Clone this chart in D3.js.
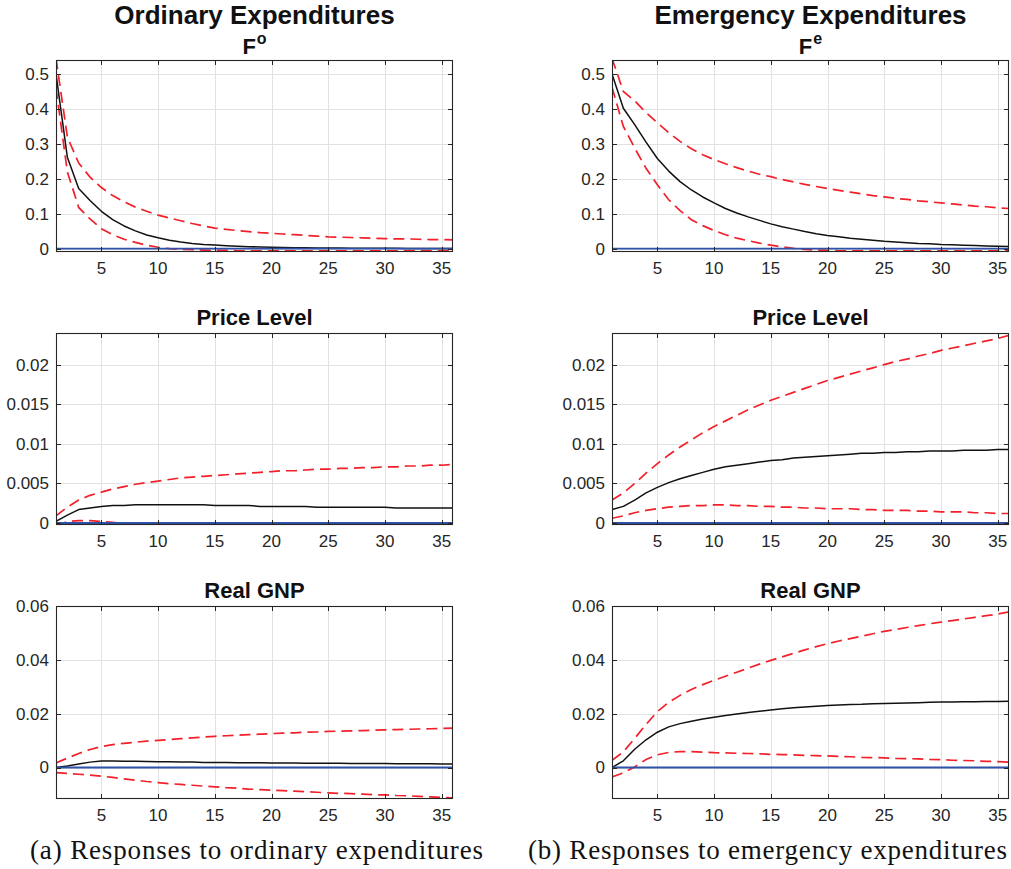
<!DOCTYPE html>
<html>
<head>
<meta charset="utf-8">
<script src="https://cdn.jsdelivr.net/npm/d3@7"></script>
<style>
  html, body { margin: 0; padding: 0; background: #fff; }
  svg { display: block; }
</style>
</head>
<body>
<svg id="chart" width="1011" height="869"></svg>
<script>
// ---------------- DATA ----------------
const horizon = [1,2,3,4,5,6,7,8,9,10,11,12,13,14,15,16,17,18,19,20,21,22,23,24,25,26,27,28,29,30,31,32,33,34,35,36];
const xTicks = [5,10,15,20,25,30,35];

// Row 1: fiscal variable own response
const foMed = [0.500,0.262,0.172,0.138,0.107,0.083,0.065,0.051,0.039,0.031,0.024,0.019,0.015,0.012,0.0105,0.0085,0.007,0.0058,0.0048,0.004,0.0034,0.0029,0.0025,0.0021,0.0018,0.0016,0.0014,0.0012,0.0011,0.001,0.0009,0.0008,0.0007,0.0006,0.0006,0.0005];
const foUp  = [0.545,0.32,0.245,0.205,0.175,0.152,0.134,0.119,0.107,0.096,0.088,0.080,0.072,0.065,0.059,0.055,0.052,0.049,0.046,0.044,0.042,0.040,0.038,0.036,0.034,0.033,0.032,0.031,0.030,0.029,0.028,0.028,0.027,0.026,0.026,0.025];
const foLo  = [0.46,0.22,0.118,0.085,0.057,0.040,0.027,0.018,0.010,0.004,0.000,-0.002,-0.003,-0.004,-0.005,-0.005,-0.006,-0.006,-0.006,-0.006,-0.006,-0.006,-0.006,-0.006,-0.006,-0.006,-0.006,-0.006,-0.006,-0.006,-0.006,-0.006,-0.006,-0.006,-0.006,-0.006];

const feMed = [0.500,0.402,0.355,0.305,0.258,0.222,0.192,0.168,0.148,0.131,0.115,0.102,0.091,0.081,0.071,0.063,0.056,0.049,0.043,0.038,0.034,0.030,0.027,0.024,0.021,0.019,0.017,0.015,0.014,0.012,0.011,0.010,0.009,0.008,0.007,0.006];
const feUp  = [0.545,0.45,0.423,0.39,0.36,0.332,0.307,0.286,0.269,0.255,0.243,0.232,0.222,0.213,0.206,0.198,0.191,0.184,0.178,0.172,0.167,0.162,0.157,0.152,0.148,0.144,0.141,0.137,0.134,0.131,0.128,0.125,0.122,0.120,0.117,0.115];
const feLo  = [0.462,0.35,0.288,0.23,0.183,0.14,0.109,0.083,0.066,0.052,0.040,0.030,0.023,0.016,0.010,0.005,0.001,-0.002,-0.004,-0.005,-0.006,-0.006,-0.006,-0.006,-0.006,-0.006,-0.006,-0.006,-0.006,-0.006,-0.006,-0.006,-0.006,-0.006,-0.006,-0.006];

// Row 2: price level
const ploMed = [0.0002,0.0010,0.0017,0.0019,0.0021,0.0022,0.0022,0.0023,0.0023,0.0023,0.0023,0.0023,0.0023,0.0023,0.0022,0.0022,0.0022,0.0022,0.0021,0.0021,0.0021,0.0021,0.0021,0.0020,0.0020,0.0020,0.0020,0.0020,0.0020,0.0020,0.0019,0.0019,0.0019,0.0019,0.0019,0.0019];
const ploUp  = [0.0009,0.0020,0.0029,0.0035,0.0039,0.0043,0.0046,0.0049,0.0051,0.0053,0.0055,0.0057,0.0058,0.0059,0.0060,0.0061,0.0062,0.0063,0.0064,0.0065,0.0066,0.0066,0.0067,0.0068,0.0068,0.0069,0.0069,0.0070,0.0070,0.0071,0.0071,0.0072,0.0072,0.0073,0.0073,0.0074];
const ploLo  = [-0.0004,0.0002,0.0003,0.0003,0.0002,0.0001,-0.0001,-0.0003,-0.0005,-0.0007,-0.0009,-0.0011,-0.0012,-0.0014,-0.0015,-0.0016,-0.0017,-0.0018,-0.0019,-0.0020,-0.0021,-0.0022,-0.0023,-0.0023,-0.0024,-0.0025,-0.0025,-0.0026,-0.0026,-0.0027,-0.0027,-0.0028,-0.0028,-0.0029,-0.0029,-0.0030];

const pleMed = [0.0017,0.0021,0.0029,0.0038,0.0045,0.0051,0.0056,0.0060,0.0064,0.0068,0.0071,0.0073,0.0075,0.0077,0.0079,0.0080,0.0082,0.0083,0.0084,0.0085,0.0086,0.0087,0.0088,0.0088,0.0089,0.0089,0.0090,0.0090,0.0091,0.0091,0.0091,0.0092,0.0092,0.0092,0.0093,0.0093];
const pleUp  = [0.0029,0.0038,0.0050,0.0063,0.0075,0.0086,0.0096,0.0105,0.0114,0.0122,0.0129,0.0136,0.0143,0.0149,0.0155,0.0160,0.0165,0.0170,0.0175,0.0180,0.0184,0.0188,0.0192,0.0196,0.0200,0.0204,0.0207,0.0211,0.0214,0.0218,0.0221,0.0224,0.0227,0.0230,0.0233,0.0237];
const pleLo  = [0.0006,0.0009,0.0013,0.0016,0.0018,0.0020,0.0021,0.0022,0.0022,0.0023,0.0023,0.0022,0.0022,0.0021,0.0021,0.0020,0.0020,0.0019,0.0019,0.0018,0.0018,0.0018,0.0017,0.0017,0.0016,0.0016,0.0016,0.0015,0.0015,0.0014,0.0014,0.0014,0.0013,0.0013,0.0012,0.0012];

// Row 3: real GNP
const gnoMed = [0.0000,0.0006,0.0013,0.0020,0.0024,0.0024,0.0023,0.0023,0.0022,0.0021,0.0021,0.0020,0.0020,0.0019,0.0019,0.0019,0.0018,0.0018,0.0018,0.0017,0.0017,0.0017,0.0016,0.0016,0.0016,0.0016,0.0015,0.0015,0.0015,0.0015,0.0014,0.0014,0.0014,0.0014,0.0013,0.0013];
const gnoUp  = [0.0017,0.0035,0.0052,0.0067,0.0078,0.0085,0.0090,0.0094,0.0098,0.0101,0.0104,0.0107,0.0110,0.0113,0.0116,0.0118,0.0120,0.0122,0.0124,0.0126,0.0128,0.0129,0.0131,0.0132,0.0134,0.0135,0.0136,0.0137,0.0139,0.0140,0.0141,0.0142,0.0143,0.0144,0.0145,0.0146];
const gnoLo  = [-0.0019,-0.0022,-0.0025,-0.0028,-0.0032,-0.0037,-0.0042,-0.0047,-0.0052,-0.0056,-0.0060,-0.0063,-0.0066,-0.0069,-0.0072,-0.0075,-0.0077,-0.0080,-0.0082,-0.0084,-0.0086,-0.0088,-0.0090,-0.0092,-0.0094,-0.0096,-0.0097,-0.0099,-0.0101,-0.0102,-0.0104,-0.0105,-0.0107,-0.0109,-0.0111,-0.0113];

const gneMed = [0.0000,0.0025,0.0068,0.0103,0.0131,0.0151,0.0163,0.0172,0.0180,0.0187,0.0193,0.0199,0.0204,0.0209,0.0214,0.0218,0.0222,0.0225,0.0228,0.0230,0.0232,0.0234,0.0235,0.0237,0.0238,0.0239,0.0240,0.0241,0.0242,0.0243,0.0243,0.0244,0.0244,0.0245,0.0245,0.0246];
const gneUp  = [0.0027,0.0058,0.0108,0.0160,0.0208,0.0242,0.0268,0.0290,0.0308,0.0324,0.0339,0.0354,0.0369,0.0384,0.0398,0.0411,0.0424,0.0437,0.0449,0.0460,0.0470,0.0479,0.0488,0.0497,0.0506,0.0513,0.0520,0.0527,0.0534,0.0540,0.0546,0.0552,0.0558,0.0564,0.0570,0.0578];
const gneLo  = [-0.0035,-0.0020,0.0002,0.0030,0.0047,0.0056,0.0059,0.0059,0.0057,0.0055,0.0054,0.0053,0.0052,0.0051,0.0049,0.0048,0.0047,0.0045,0.0044,0.0043,0.0041,0.0040,0.0038,0.0037,0.0036,0.0034,0.0033,0.0032,0.0030,0.0029,0.0027,0.0026,0.0025,0.0023,0.0022,0.0020];

// Axis settings per row
const rowDomains = [[-0.0095, 0.54], [-0.00025, 0.024], [-0.0117, 0.06]];
const rowTicks = [[0,0.1,0.2,0.3,0.4,0.5],[0,0.005,0.01,0.015,0.02],[0,0.02,0.04,0.06]];
const rowTickLabels = [["0","0.1","0.2","0.3","0.4","0.5"],["0","0.005","0.01","0.015","0.02"],["0","0.02","0.04","0.06"]];
const columnTitles = ["Ordinary Expenditures", "Emergency Expenditures"];
const fiscalSuper = ["o", "e"];
const rowTitles = [null, "Price Level", "Real GNP"];
const captions = ["(a) Responses to ordinary expenditures", "(b) Responses to emergency expenditures"];

const series = [
  [ {med: foMed, up: foUp, lo: foLo}, {med: feMed, up: feUp, lo: feLo} ],
  [ {med: ploMed, up: ploUp, lo: ploLo}, {med: pleMed, up: pleUp, lo: pleLo} ],
  [ {med: gnoMed, up: gnoUp, lo: gnoLo}, {med: gneMed, up: gneUp, lo: gneLo} ]
];

// ---------------- LAYOUT ----------------
const cols = [{x0: 56, x1: 453}, {x0: 612, x1: 1009}];
const rows = [{y0: 60, y1: 252}, {y0: 333, y1: 525}, {y0: 606, y1: 799}];
const sans = "'Liberation Sans', Arial, Helvetica, sans-serif";
const serif = "'Liberation Serif', 'Times New Roman', serif";
const axisColor = "#262626";
const gridColor = "#e2e2e2";
const redColor = "#f2202a";
const blueColor = "#2f51a8";
const tickLen = 5;

const svg = d3.select("#chart");
const defs = svg.append("defs");

rows.forEach((r, ri) => {
  cols.forEach((c, ci) => {
    const x = d3.scaleLinear().domain([1, 36]).range([c.x0, c.x1]);
    const y = d3.scaleLinear().domain(rowDomains[ri]).range([r.y1, r.y0]);
    const g = svg.append("g");
    const clipId = `clip-${ri}-${ci}`;
    defs.append("clipPath").attr("id", clipId)
      .append("rect").attr("x", c.x0).attr("y", r.y0)
      .attr("width", c.x1 - c.x0).attr("height", r.y1 - r.y0);

    // grid
    g.selectAll(".gx").data(xTicks).enter().append("line")
      .attr("x1", d => Math.round(x(d)) + 0.5).attr("x2", d => Math.round(x(d)) + 0.5)
      .attr("y1", r.y0).attr("y2", r.y1)
      .attr("stroke", gridColor).attr("stroke-width", 1);
    g.selectAll(".gy").data(rowTicks[ri]).enter().append("line")
      .attr("y1", d => Math.round(y(d)) + 0.5).attr("y2", d => Math.round(y(d)) + 0.5)
      .attr("x1", c.x0).attr("x2", c.x1)
      .attr("stroke", gridColor).attr("stroke-width", 1);

    // data lines
    const line = d3.line().x((d, i) => x(horizon[i])).y(d => y(d));
    const s = series[ri][ci];
    const lg = g.append("g").attr("clip-path", `url(#${clipId})`);
    lg.append("path").datum(s.med).attr("d", line)
      .attr("fill", "none").attr("stroke", "#111").attr("stroke-width", 1.5)
      .attr("stroke-linejoin", "round");
    [s.up, s.lo].forEach(arr => {
      lg.append("path").datum(arr).attr("d", line)
        .attr("fill", "none").attr("stroke", redColor).attr("stroke-width", 1.7)
        .attr("stroke-dasharray", "11,6");
    });
    const zeroLine = horizon.map(() => 0);
    lg.append("path").datum(zeroLine).attr("d", line)
      .attr("fill", "none").attr("stroke", blueColor).attr("stroke-width", 1.8);

    // ticks (inward, all four sides)
    xTicks.forEach(t => {
      const xx = Math.round(x(t)) + 0.5;
      g.append("line").attr("x1", xx).attr("x2", xx).attr("y1", r.y1).attr("y2", r.y1 - tickLen)
        .attr("stroke", axisColor).attr("stroke-width", 1);
      g.append("line").attr("x1", xx).attr("x2", xx).attr("y1", r.y0).attr("y2", r.y0 + tickLen)
        .attr("stroke", axisColor).attr("stroke-width", 1);
    });
    rowTicks[ri].forEach(t => {
      const yy = Math.round(y(t)) + 0.5;
      g.append("line").attr("x1", c.x0).attr("x2", c.x0 + tickLen).attr("y1", yy).attr("y2", yy)
        .attr("stroke", axisColor).attr("stroke-width", 1);
      g.append("line").attr("x1", c.x1).attr("x2", c.x1 - tickLen).attr("y1", yy).attr("y2", yy)
        .attr("stroke", axisColor).attr("stroke-width", 1);
    });

    // box
    g.append("rect").attr("x", c.x0 + 0.5).attr("y", r.y0 + 0.5)
      .attr("width", c.x1 - c.x0 - 1).attr("height", r.y1 - r.y0 - 1)
      .attr("fill", "none").attr("stroke", axisColor).attr("stroke-width", 1.1);

    // tick labels
    g.selectAll(".xl").data(xTicks).enter().append("text")
      .attr("x", d => x(d)).attr("y", r.y1 + 21.5)
      .attr("text-anchor", "middle")
      .style("font-family", sans).style("font-size", "17px").attr("fill", axisColor)
      .text(d => d);
    g.selectAll(".yl").data(rowTicks[ri]).enter().append("text")
      .attr("x", c.x0 - 7).attr("y", d => y(d)).attr("dy", "0.35em")
      .attr("text-anchor", "end")
      .style("font-family", sans).style("font-size", "17px").attr("fill", axisColor)
      .text((d, i) => rowTickLabels[ri][i]);

    // titles
    const cx = (c.x0 + c.x1) / 2;
    if (ri === 0) {
      g.append("text").attr("x", cx).attr("y", 24).attr("text-anchor", "middle")
        .style("font-family", sans).style("font-size", "26px").style("font-weight", "bold")
        .attr("fill", "#111").text(columnTitles[ci]);
      const ft = g.append("text").attr("x", cx).attr("y", 54).attr("text-anchor", "middle")
        .style("font-family", sans).style("font-weight", "bold").attr("fill", "#111");
      ft.append("tspan").style("font-size", "22px").text("F");
      ft.append("tspan").style("font-size", "16px").attr("dx", 1).attr("dy", -10).text(fiscalSuper[ci]);
    } else {
      g.append("text").attr("x", cx).attr("y", r.y0 - 8).attr("text-anchor", "middle")
        .style("font-family", sans).style("font-size", "22px").style("font-weight", "bold")
        .attr("fill", "#111").text(rowTitles[ri]);
    }
  });
});

// captions
const capPos = [{x: 30, w: 453}, {x: 528, w: 479}];
captions.forEach((t, i) => {
  svg.append("text").attr("x", capPos[i].x).attr("y", 859)
    .attr("textLength", capPos[i].w).attr("lengthAdjust", "spacing")
    .style("font-family", serif).style("font-size", "27px").attr("fill", "#111")
    .text(t);
});
</script>
</body>
</html>
